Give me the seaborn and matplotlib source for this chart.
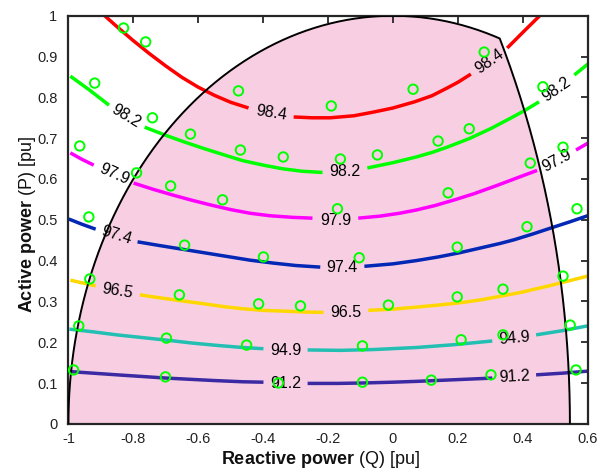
import numpy as np
import pandas as pd
import matplotlib
matplotlib.use("Agg")
import matplotlib.pyplot as plt
import seaborn as sns

nan = np.nan

# Efficiency contour levels [%] and their line colours
levels = ["98.4", "98.2", "97.9", "97.4", "96.5", "94.9", "91.2"]
level_colors = ["#ff0000", "#00ff00", "#ff00ff", "#0328b5", "#ffd700", "#22bfb2", "#3b2aa3"]

# Contour traces in the (Q, P) plane; NaN marks the break left for an inline label
q_984 = [-0.888, -0.850, -0.800, -0.750, -0.700, -0.650, -0.600, -0.550, -0.500, -0.445, nan,
         -0.306, -0.250, -0.193, -0.120, -0.060, 0.000, 0.066, 0.120, 0.167, 0.200, 0.240, nan,
         0.352, 0.401, 0.452]
p_984 = [1.000, 0.973, 0.939, 0.907, 0.877, 0.849, 0.825, 0.805, 0.788, 0.774, nan,
         0.752, 0.750, 0.750, 0.755, 0.764, 0.774, 0.789, 0.804, 0.823, 0.837, 0.857, nan,
         0.921, 0.960, 1.000]

q_982 = [-0.994, -0.935, -0.875, nan,
         -0.765, -0.700, -0.640, -0.580, -0.520, -0.463, -0.400, -0.340, -0.280, -0.217, nan,
         -0.079, 0.000, 0.072, 0.120, 0.167, 0.235, 0.300, 0.360, 0.404, 0.450, nan,
         0.559, 0.601]
p_982 = [0.852, 0.818, 0.781, nan,
         0.727, 0.707, 0.690, 0.674, 0.659, 0.645, 0.634, 0.625, 0.619, 0.616, nan,
         0.627, 0.640, 0.654, 0.665, 0.678, 0.699, 0.723, 0.748, 0.767, 0.789, nan,
         0.855, 0.882]

q_979 = [-0.994, -0.958, -0.922, nan,
         -0.799, -0.740, -0.680, -0.620, -0.560, -0.500, -0.440, -0.380, -0.310, -0.248, nan,
         -0.107, -0.040, 0.020, 0.072, 0.130, 0.190, 0.250, 0.320, 0.380, 0.444, nan,
         0.564, 0.601]
p_979 = [0.664, 0.648, 0.634, nan,
         0.590, 0.575, 0.561, 0.548, 0.536, 0.525, 0.516, 0.510, 0.506, 0.504, nan,
         0.504, 0.509, 0.516, 0.524, 0.535, 0.549, 0.564, 0.584, 0.602, 0.621, nan,
         0.671, 0.688]

q_974 = [-0.999, -0.958, -0.916, nan,
         -0.787, -0.720, -0.650, -0.580, -0.510, -0.440, -0.370, -0.300, -0.224, nan,
         -0.088, 0.000, 0.072, 0.140, 0.204, 0.270, 0.330, 0.373, 0.430, 0.487, 0.545, 0.600]
p_974 = [0.502, 0.489, 0.477, nan,
         0.446, 0.437, 0.428, 0.419, 0.410, 0.401, 0.394, 0.388, 0.384, nan,
         0.386, 0.392, 0.400, 0.409, 0.419, 0.431, 0.442, 0.451, 0.465, 0.480, 0.495, 0.510]

q_965 = [-0.994, -0.955, -0.916, nan,
         -0.780, -0.720, -0.657, -0.590, -0.520, -0.463, -0.400, -0.330, -0.270, -0.214, nan,
         -0.076, 0.000, 0.072, 0.140, 0.210, 0.272, 0.340, 0.400, 0.426, 0.480, 0.540, 0.600]
p_965 = [0.352, 0.345, 0.338, nan,
         0.316, 0.309, 0.302, 0.295, 0.287, 0.282, 0.278, 0.276, 0.274, 0.273, nan,
         0.278, 0.281, 0.286, 0.291, 0.297, 0.304, 0.314, 0.323, 0.328, 0.338, 0.350, 0.362]

q_949 = [-0.997, -0.920, -0.851, -0.780, -0.697, -0.620, -0.540, -0.463, -0.399, nan,
         -0.263, -0.160, -0.060, 0.072, 0.190, 0.306, nan,
         0.441, 0.520, 0.600]
p_949 = [0.232, 0.225, 0.218, 0.212, 0.205, 0.198, 0.192, 0.187, 0.184, nan,
         0.181, 0.180, 0.182, 0.187, 0.194, 0.203, nan,
         0.218, 0.228, 0.240]

q_912 = [-0.995, -0.850, -0.697, -0.550, -0.463, -0.399, nan,
         -0.263, -0.170, -0.094, 0.000, 0.072, 0.190, 0.306, nan,
         0.441, 0.520, 0.600]
p_912 = [0.128, 0.120, 0.112, 0.106, 0.103, 0.102, nan,
         0.099, 0.099, 0.100, 0.102, 0.104, 0.108, 0.112, nan,
         0.120, 0.124, 0.129]

contour_q = [q_984, q_982, q_979, q_974, q_965, q_949, q_912]
contour_p = [p_984, p_982, p_979, p_974, p_965, p_949, p_912]

# Inline contour labels: (text, Q, P, rotation in degrees)
contour_labels = [
    ("98.4", -0.375, 0.762, -9), ("98.4", 0.296, 0.888, 35),
    ("98.2", -0.822, 0.754, -31), ("98.2", -0.147, 0.619, 0), ("98.2", 0.505, 0.820, 35),
    ("97.9", -0.860, 0.611, -24), ("97.9", -0.177, 0.499, 0), ("97.9", 0.505, 0.645, 28),
    ("97.4", -0.853, 0.461, -17), ("97.4", -0.156, 0.383, 0),
    ("96.5", -0.848, 0.325, -9), ("96.5", -0.145, 0.274, 0),
    ("94.9", -0.331, 0.180, 0), ("94.9", 0.374, 0.210, 5),
    ("91.2", -0.331, 0.100, 0), ("91.2", 0.374, 0.115, 3),
]

# Measured operating points
q_obs = [-0.830, -0.762, -0.919, -0.476, -0.190, 0.062, 0.281, 0.462,
         -0.965, -0.741, -0.624, -0.470, -0.338, -0.162, -0.048, 0.139, 0.235, 0.524,
         -0.790, -0.685, -0.525, -0.171, 0.170, 0.423, 0.567,
         -0.937, -0.642, -0.399, -0.104, 0.198, 0.413,
         -0.934, -0.658, -0.414, -0.285, -0.014, 0.198, 0.339, 0.524,
         -0.968, -0.698, -0.451, -0.094, 0.210, 0.339, 0.546,
         -0.984, -0.701, -0.353, -0.094, 0.118, 0.302, 0.564]
p_obs = [0.970, 0.936, 0.835, 0.816, 0.779, 0.820, 0.911, 0.826,
         0.681, 0.750, 0.710, 0.671, 0.654, 0.649, 0.659, 0.693, 0.723, 0.678,
         0.615, 0.583, 0.549, 0.527, 0.566, 0.639, 0.527,
         0.507, 0.438, 0.409, 0.407, 0.433, 0.483,
         0.355, 0.316, 0.294, 0.289, 0.291, 0.311, 0.330, 0.362,
         0.240, 0.210, 0.193, 0.191, 0.206, 0.218, 0.242,
         0.132, 0.115, 0.100, 0.102, 0.107, 0.120, 0.132]

# Capability limits: apparent-power circle and rotor-current circle
S_MAX = 1.0
Q_CORNER = 0.329
ROTOR_CENTER_Q = -1.625

x_ticks = [-1, -0.8, -0.6, -0.4, -0.2, 0, 0.2, 0.4, 0.6]
x_tick_labels = ["-1", "-0.8", "-0.6", "-0.4", "-0.2", "0", "0.2", "0.4", "0.6"]
y_ticks = [0, 0.1, 0.2, 0.3, 0.4, 0.5, 0.6, 0.7, 0.8, 0.9, 1]
y_tick_labels = ["0", "0.1", "0.2", "0.3", "0.4", "0.5", "0.6", "0.7", "0.8", "0.9", "1"]

sns.set_theme(style="white")
plt.rcParams["font.family"] = ["Liberation Sans", "DejaVu Sans"]
plt.rcParams["mathtext.fontset"] = "custom"
plt.rcParams["mathtext.rm"] = "Liberation Sans"
plt.rcParams["mathtext.bf"] = "Liberation Sans:bold"
plt.rcParams["lines.solid_capstyle"] = "butt"

fig = plt.figure(figsize=(6.0, 4.71), dpi=100)
ax = fig.add_axes([0.114, 0.1002, 0.8655, 0.8663])

# Feasible operating region
p_corner = np.sqrt(S_MAX**2 - Q_CORNER**2)
th = np.linspace(np.pi, np.arctan2(p_corner, Q_CORNER), 300)
q_arc1, p_arc1 = S_MAX * np.cos(th), S_MAX * np.sin(th)
r_rot = np.hypot(Q_CORNER - ROTOR_CENTER_Q, p_corner)
ph = np.linspace(np.arctan2(p_corner, Q_CORNER - ROTOR_CENTER_Q), 0, 200)
q_arc2, p_arc2 = ROTOR_CENTER_Q + r_rot * np.cos(ph), r_rot * np.sin(ph)
q_b = np.concatenate([q_arc1, q_arc2])
p_b = np.concatenate([p_arc1, p_arc2])
ax.fill(q_b, p_b, color="#f8cfe2", lw=0, zorder=0)

# Efficiency contours, drawn segment by segment around the label gaps
for q_list, p_list, col in zip(contour_q, contour_p, level_colors):
    q_arr, p_arr = np.asarray(q_list), np.asarray(p_list)
    seg_id = np.cumsum(np.isnan(q_arr))
    df = pd.DataFrame({"Q": q_arr, "P": p_arr, "seg": seg_id}).dropna()
    for _, seg in df.groupby("seg"):
        sns.lineplot(data=seg, x="Q", y="P", sort=False, color=col, lw=2.5,
                     ax=ax, zorder=2, legend=False)

sns.lineplot(x=q_b, y=p_b, sort=False, color="black", lw=1.4, ax=ax, zorder=3)

for txt, q, p, rot in contour_labels:
    ax.text(q, p, txt, ha="center", va="center", rotation=rot,
            rotation_mode="anchor", fontsize=11.5, color="black", zorder=4)

sns.scatterplot(x=q_obs, y=p_obs, s=46, marker="o", facecolors="none",
                edgecolor="#00ff00", linewidth=1.4, ax=ax, zorder=5)
ax.collections[-1].set_facecolor("none")

ax.set_xlim(-1, 0.6)
ax.set_ylim(0, 1)
ax.set_xticks(x_ticks)
ax.set_xticklabels(x_tick_labels)
ax.set_yticks(y_ticks)
ax.set_yticklabels(y_tick_labels)
ax.tick_params(direction="in", top=True, right=True, length=5, width=1.3,
               color="#262626", labelsize=10.5, labelcolor="#222222")
ax.tick_params(axis="y", pad=8)
ax.tick_params(axis="x", pad=6)
for sp in ax.spines.values():
    sp.set_linewidth(1.6)
    sp.set_color("#262626")

ax.set_xlabel(r"$\mathbf{Reactive\ power}$ (Q) [pu]", fontsize=13, color="#111111")
ax.set_ylabel(r"$\mathbf{Active\ power}$ (P) [pu]", fontsize=13, color="#111111")
ax.xaxis.set_label_coords(0.4865, -0.062)
ax.yaxis.set_label_coords(-0.058, 0.49)

fig.savefig("out.png", dpi=100)
